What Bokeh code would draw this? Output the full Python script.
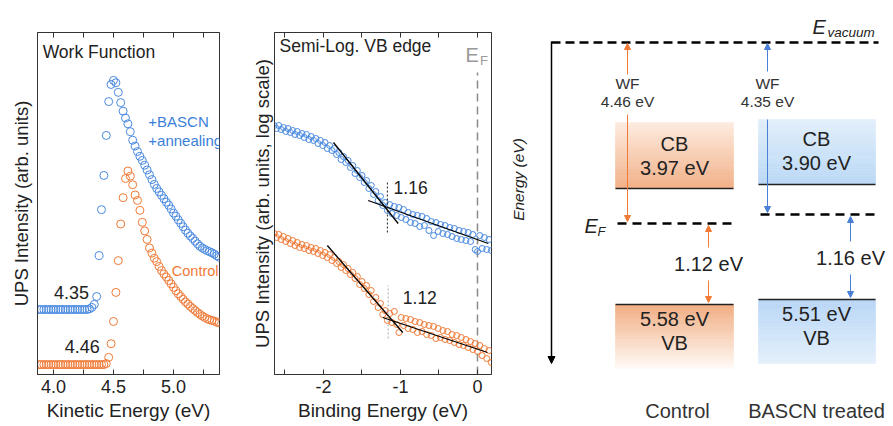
from bokeh.plotting import figure
from bokeh.models import (Range1d, FixedTicker, Label, Arrow, NormalHead, LinearAxis,
                          PrintfTickFormatter)
from bokeh.embed import file_html
from bokeh.resources import INLINE

FONT = "Liberation Sans"
TXT = "#222222"
BLUE = "#4a8ae0"
ORANGE = "#f07a36"

# ---------------- Panel 1: work function (secondary electron cut-off) ----------------
kinetic_energy = [3.88, 3.90, 3.92, 3.94, 3.96, 3.98, 4.00, 4.02, 4.04, 4.06, 4.08, 4.10, 4.12, 4.14,
                  4.16, 4.18, 4.20, 4.22, 4.24, 4.26, 4.28, 4.30, 4.32, 4.34, 4.36, 4.38, 4.40, 4.42,
                  4.44, 4.46, 4.48, 4.50, 4.52, 4.54, 4.56, 4.58, 4.60, 4.62, 4.64, 4.66, 4.68, 4.70,
                  4.72, 4.74, 4.76, 4.78, 4.80, 4.82, 4.84, 4.86, 4.88, 4.90, 4.92, 4.94, 4.96, 4.98,
                  5.00, 5.02, 5.04, 5.06, 5.08, 5.10, 5.12, 5.14, 5.16, 5.18, 5.20, 5.22, 5.24, 5.26,
                  5.28, 5.30, 5.32, 5.34, 5.36, 5.38]
wf_bascn = [19.0] * 21 + [19.2, 19.6, 20.5, 22.8, 34.8, 48.2, 58.2, 69.9, 79.8, 84.8, 86.0, 85.3,
                          82.5, 79.5, 77.0, 75.0, 73.3, 71.0, 68.5, 66.8, 65.2, 63.8, 62.6, 61.2,
                          59.8, 58.4, 57.0, 55.6, 54.4, 53.4, 52.4, 51.4, 50.4, 49.5, 48.4, 47.2,
                          46.3, 45.2, 44.2, 43.2, 42.2, 41.3, 40.5, 39.8, 39.0, 38.2, 37.5, 37.0,
                          36.6, 36.2, 35.9, 35.6, 35.2, 34.7, 34.3]
wf_control = [2.9] * 28 + [3.2, 5.0, 9.0, 15.5, 24.0, 33.3, 44.0, 51.7, 57.3, 59.5, 58.0, 55.5,
                           52.5, 50.9, 48.0, 44.5, 42.0, 39.5, 37.0, 35.5, 34.0, 33.0, 31.6, 30.4,
                           29.4, 28.5, 27.5, 26.5, 25.5, 24.5, 23.6, 22.8, 22.0, 21.2, 20.6, 19.9,
                           19.3, 18.7, 18.1, 17.6, 17.1, 16.7, 16.3, 16.0, 15.8, 15.6, 15.3, 15.1]
ke_ticks = [4.0, 4.5, 5.0]
ke_minor = [4.25, 4.75, 5.25]
wf_cutoff_labels = ["4.35", "4.46"]

# ---------------- Panel 2: semi-log valence band edge ----------------
binding_energy = [-2.64, -2.61, -2.58, -2.55, -2.52, -2.49, -2.46, -2.43, -2.40, -2.37, -2.34, -2.31,
                  -2.28, -2.25, -2.22, -2.19, -2.16, -2.13, -2.10, -2.07, -2.04, -2.01, -1.98, -1.95,
                  -1.92, -1.89, -1.86, -1.83, -1.80, -1.77, -1.74, -1.71, -1.68, -1.65, -1.62, -1.59,
                  -1.56, -1.53, -1.50, -1.47, -1.44, -1.41, -1.38, -1.35, -1.32, -1.29, -1.26, -1.23,
                  -1.20, -1.17, -1.14, -1.11, -1.08, -1.05, -1.02, -0.99, -0.96, -0.93, -0.90, -0.87,
                  -0.84, -0.81, -0.78, -0.75, -0.72, -0.69, -0.66, -0.63, -0.60, -0.57, -0.54, -0.51,
                  -0.48, -0.45, -0.42, -0.39, -0.36, -0.33, -0.30, -0.27, -0.24, -0.21, -0.18, -0.15,
                  -0.12, -0.09, -0.06, -0.03, 0.00, 0.03, 0.06, 0.09, 0.12, 0.15, 0.18]
vb_bascn = [24.9, 24.6, 24.9, 24.5, 24.7, 24.3, 24.6, 24.2, 24.4, 24.0,
            24.3, 23.9, 24.1, 23.7, 24.0, 23.5, 23.8, 23.4, 23.6, 23.1,
            23.4, 22.9, 23.2, 22.6, 22.9, 22.4, 22.6, 22.0, 22.2, 21.5,
            21.8, 21.2, 21.4, 20.7, 20.9, 20.1, 20.4, 19.7, 19.9, 19.2,
            19.4, 18.6, 18.9, 18.0, 18.3, 17.4, 17.8, 16.9, 17.2, 16.4,
            17.0, 16.1, 16.8, 15.9, 16.7, 15.7, 16.5, 15.5, 16.2, 15.2,
            16.0, 15.1, 15.9, 14.8, 15.8, 14.9, 15.6, 14.4, 15.3, 13.9,
            15.2, 14.3, 15.0, 14.1, 14.9, 14.0, 14.7, 13.8, 14.6, 13.6,
            14.4, 13.5, 14.3, 13.4, 14.2, 13.3, 14.0, 12.5, 12.3, 13.9,
            12.6, 13.7, 12.5, 13.5, 12.4]
vb_control = [14.1, 13.7, 14.0, 13.5, 13.8, 13.3, 13.6, 13.1, 13.4, 12.9,
              13.2, 12.7, 13.0, 12.6, 12.9, 12.4, 12.7, 12.3, 12.6, 12.1,
              12.4, 11.9, 12.2, 11.7, 12.0, 11.4, 11.7, 11.1, 11.3, 10.7,
              11.0, 10.4, 10.6, 10.0, 10.2, 9.6, 9.8, 9.0, 9.3, 8.6,
              8.9, 8.0, 8.4, 7.3, 7.7, 6.7, 7.1, 6.0, 6.4, 5.4,
              6.1, 5.2, 6.3, 5.0, 4.2, 5.7, 4.9, 5.6, 4.6, 5.5,
              4.5, 5.3, 4.2, 5.2, 4.3, 5.0, 4.0, 4.9, 3.9, 4.8,
              3.6, 4.6, 3.7, 4.4, 3.5, 4.3, 3.4, 4.0, 3.2, 3.9,
              3.0, 3.7, 2.9, 3.5, 2.7, 3.3, 2.5, 3.1, 2.3, 2.9,
              1.9, 2.6, 1.6, 2.4, 1.2]
# linear fits (x0, y0, x1, y1)
fit_bascn_steep = [-1.87, 23.2, -1.03, 15.1]
fit_bascn_flat = [-1.42, 17.4, 0.14, 13.1]
fit_control_steep = [-1.95, 12.9, -0.97, 4.2]
fit_control_flat = [-1.23, 5.7, 0.13, 2.2]
onset_bascn = [-1.17, 14.2, 19.4]
onset_control = [-1.16, 3.6, 8.9]
onset_labels = ["1.16", "1.12"]
be_ticks = [-2, -1, 0]
be_minor = [-2.5, -1.5, -0.5]

# ---------------- Panel 3: energy level diagram ----------------
samples = ["Control", "BASCN treated"]
work_function = [4.46, 4.35]
cb_energy = [3.97, 3.90]
vb_energy = [5.58, 5.51]
ef_to_vb = [1.12, 1.16]
sample_colors = [ORANGE, "#4a7fd6"]

H = 426


def style_frame(p):
    p.grid.visible = False
    p.outline_line_color = "#333333"
    p.outline_line_width = 1
    p.background_fill_color = "white"
    p.border_fill_color = "white"


def style_xaxis(ax, ticks, minor, label, fmt):
    ax.ticker = FixedTicker(ticks=ticks, minor_ticks=minor)
    ax.formatter = PrintfTickFormatter(format=fmt)
    ax.major_tick_in = 5
    ax.major_tick_out = 0
    ax.minor_tick_in = 5
    ax.minor_tick_out = 0
    ax.axis_line_color = "#333333"
    ax.major_tick_line_color = "#333333"
    ax.minor_tick_line_color = "#333333"
    ax.major_label_text_font = FONT
    ax.major_label_text_font_size = "18px"
    ax.major_label_text_color = TXT
    ax.major_label_standoff = 5
    ax.axis_label = label
    ax.axis_label_text_font = FONT
    ax.axis_label_text_font_size = "19px"
    ax.axis_label_text_font_style = "normal"
    ax.axis_label_text_color = TXT
    ax.axis_label_standoff = 4


def top_axis(ticks, minor):
    return LinearAxis(ticker=FixedTicker(ticks=[], minor_ticks=list(ticks) + list(minor)),
                      major_tick_in=0, major_tick_out=0, minor_tick_in=5, minor_tick_out=0,
                      major_label_standoff=0, axis_line_color="#333333",
                      minor_tick_line_color="#333333")


def style_yaxis(ax, label, standoff):
    ax.ticker = FixedTicker(ticks=[])
    ax.major_tick_in = 0
    ax.major_tick_out = 0
    ax.minor_tick_in = 0
    ax.minor_tick_out = 0
    ax.axis_line_color = "#333333"
    ax.major_label_standoff = 0
    ax.axis_label = label
    ax.axis_label_text_font = FONT
    ax.axis_label_text_font_size = "18.5px"
    ax.axis_label_text_font_style = "normal"
    ax.axis_label_text_color = TXT
    ax.axis_label_standoff = standoff


def lbl(p, x, y, text, size, color=TXT, align="left", baseline="middle", style="normal", **kw):
    p.add_layout(Label(x=x, y=y, text=text, text_font=FONT, text_font_size=size,
                       text_color=color, text_align=align, text_baseline=baseline,
                       text_font_style=style, **kw))


# ---------- figure 1 ----------
p1 = figure(width=245, height=H, x_range=Range1d(3.867, 5.383), y_range=Range1d(0, 100),
            output_backend="svg", toolbar_location=None, min_border_left=37, min_border_right=26,
            min_border_top=32, min_border_bottom=H - 374)
style_frame(p1)
style_xaxis(p1.xaxis[0], ke_ticks, ke_minor, "Kinetic Energy (eV)", "%.1f")
p1.add_layout(top_axis(ke_ticks, ke_minor), "above")
style_yaxis(p1.yaxis[0], "UPS Intensity (arb. units)", 6)
p1.scatter(kinetic_energy, wf_bascn, marker="circle", size=8, fill_alpha=0, line_color=BLUE, line_width=1)
p1.scatter(kinetic_energy, wf_control, marker="circle", size=8, fill_alpha=0, line_color=ORANGE, line_width=1)
lbl(p1, 3.91, 94.2, "Work Function", "17.5px")
lbl(p1, 4.79, 74.0, "+BASCN", "15px", color="#3a7fd8")
lbl(p1, 4.79, 68.4, "+annealing", "15px", color="#3a7fd8")
lbl(p1, 5.375, 30.4, "Control", "14.5px", color=ORANGE, align="right")
lbl(p1, 4.15, 24.0, wf_cutoff_labels[0], "18px", align="center")
lbl(p1, 4.24, 8.2, wf_cutoff_labels[1], "18px", align="center")

# ---------- figure 2 ----------
p2 = figure(width=255, height=H, x_range=Range1d(-2.636, 0.182), y_range=Range1d(0, 34.2),
            output_backend="svg", toolbar_location=None, min_border_left=29, min_border_right=9,
            min_border_top=32, min_border_bottom=H - 374)
style_frame(p2)
style_xaxis(p2.xaxis[0], be_ticks, be_minor, "Binding Energy (eV)", "%d")
p2.add_layout(top_axis(be_ticks, be_minor), "above")
style_yaxis(p2.yaxis[0], "UPS Intensity (arb. units, log scale)", 2)
p2.segment(x0=[0], y0=[0], x1=[0], y1=[30.2], line_color="#8a8a8a", line_width=1.5, line_dash="8 5")
p2.scatter(binding_energy, vb_bascn, marker="circle", size=6, fill_alpha=0, line_color=BLUE, line_width=1)
p2.scatter(binding_energy, vb_control, marker="circle", size=6, fill_alpha=0, line_color=ORANGE, line_width=1)
fits = [fit_bascn_steep, fit_bascn_flat, fit_control_steep, fit_control_flat]
p2.segment(x0=[f[0] for f in fits], y0=[f[1] for f in fits], x1=[f[2] for f in fits],
           y1=[f[3] for f in fits], line_color="black", line_width=1.3)
p2.segment(x0=[onset_bascn[0]], y0=[onset_bascn[1]], x1=[onset_bascn[0]], y1=[onset_bascn[2]],
           line_color="#222222", line_width=1, line_dash="2 2")
p2.segment(x0=[onset_control[0]], y0=[onset_control[1]], x1=[onset_control[0]], y1=[onset_control[2]],
           line_color="#aaaaaa", line_width=1, line_dash="2 2")
lbl(p2, -1.09, 18.7, onset_labels[0], "17.5px")
lbl(p2, -0.97, 7.7, onset_labels[1], "17.5px")
lbl(p2, -2.57, 32.9, "Semi-Log. VB edge", "17.5px")
lbl(p2, -0.07, 31.95, "E", "20px", color="#999999", align="center")
lbl(p2, 0.085, 31.4, "F", "13px", color="#999999", align="center")

# ---------- figure 3: schematic diagram (layout coordinates = page px) ----------
p3 = figure(width=390, height=H, x_range=Range1d(500, 890), y_range=Range1d(H, 0),
            x_axis_type=None, y_axis_type=None, output_backend="svg", toolbar_location=None,
            min_border=0)
p3.grid.visible = False
p3.outline_line_color = None

VAC_Y = 42
AXIS_X = 551
cols = [
    dict(x0=615, x1=733, cb_top=122, cb_y=188, ef_y=223, vb_y=304, vb_bot=368, wf_x=627, gap_x=708,
         cb_c=((253, 236, 224), (242, 176, 136)), vb_c=((241, 172, 128), (255, 250, 246)),
         cx=674, cb_ty=143, vb_ty=318, gap_ty=263, label_x=677, wf_top_end=74, wf_bot_start=114),
    dict(x0=758, x1=875, cb_top=119, cb_y=184, ef_y=214, vb_y=299, vb_bot=363, wf_x=767, gap_x=850,
         cb_c=((226, 239, 251), (186, 216, 246)), vb_c=((184, 214, 246), (228, 240, 252)),
         cx=816, cb_ty=138, vb_ty=313, gap_ty=257, label_x=816, wf_top_end=71, wf_bot_start=119),
]


def gradient_box(p, x0, x1, ytop, ybot, ctop, cbot, n=30):
    h = (ybot - ytop) / n
    tops, bots, colors = [], [], []
    for i in range(n):
        t = (i + 0.5) / n
        c = tuple(int(round(ctop[k] + (cbot[k] - ctop[k]) * t)) for k in range(3))
        colors.append("#%02x%02x%02x" % c)
        tops.append(ytop + i * h)
        bots.append(ytop + (i + 1) * h)
    p.quad(left=[x0] * n, right=[x1] * n, top=tops, bottom=bots, fill_color=colors,
           line_color=colors, line_width=0.6)


def arrow(p, x, y0, y1, color):
    p.add_layout(Arrow(end=NormalHead(size=6, fill_color=color, line_color=color, line_width=1),
                       x_start=x, y_start=y0, x_end=x, y_end=y1, line_color=color, line_width=1))


# energy axis
p3.add_layout(Arrow(end=NormalHead(size=7, fill_color="black", line_color="black"),
                    x_start=AXIS_X, y_start=VAC_Y - 1, x_end=AXIS_X, y_end=363,
                    line_color="black", line_width=1.5))
p3.add_layout(Label(x=518, y=179, text="Energy (eV)", angle=1.5708, text_font=FONT,
                    text_font_size="15.5px", text_font_style="italic", text_color=TXT,
                    text_align="center", text_baseline="middle"))
# vacuum level
p3.segment(x0=[AXIS_X], y0=[VAC_Y], x1=[878], y1=[VAC_Y], line_color="black", line_width=2.5,
           line_dash="9 5")
lbl(p3, 812, 26, "E", "20px", style="italic")
lbl(p3, 827, 32, "vacuum", "13.5px", style="italic")
lbl(p3, 584, 225, "E", "20px", style="italic")
lbl(p3, 597, 231, "F", "13px", style="italic")

for i, c in enumerate(cols):
    col = sample_colors[i]
    gradient_box(p3, c["x0"], c["x1"], c["cb_top"], c["cb_y"], c["cb_c"][0], c["cb_c"][1])
    gradient_box(p3, c["x0"], c["x1"], c["vb_y"], c["vb_bot"], c["vb_c"][0], c["vb_c"][1])
    p3.segment(x0=[c["x0"], c["x0"]], y0=[c["cb_y"], c["vb_y"]], x1=[c["x1"], c["x1"]],
               y1=[c["cb_y"], c["vb_y"]], line_color="#222222", line_width=1.6)
    p3.segment(x0=[c["x0"] + 2], y0=[c["ef_y"]], x1=[c["x1"]], y1=[c["ef_y"]], line_color="black",
               line_width=2.5, line_dash="9 6")
    lbl(p3, c["cx"], c["cb_ty"], "CB", "20px", align="center")
    lbl(p3, c["cx"], c["cb_ty"] + 24, "%.2f eV" % cb_energy[i], "20px", align="center")
    lbl(p3, c["cx"], c["vb_ty"], "%.2f eV" % vb_energy[i], "20px", align="center")
    lbl(p3, c["cx"], c["vb_ty"] + 24, "VB", "20px", align="center")
    # work function arrow
    arrow(p3, c["wf_x"], c["wf_top_end"], VAC_Y + 1, col)
    arrow(p3, c["wf_x"], c["wf_bot_start"], c["ef_y"] - 2, col)
    lbl(p3, c["wf_x"], 83, "WF", "15.5px", color="#333333", align="center")
    lbl(p3, c["wf_x"], 101, "%.2f eV" % work_function[i], "15.5px", color="#333333", align="center")
    # EF to VB arrow
    arrow(p3, c["gap_x"], c["gap_ty"] - 16, c["ef_y"] + 2, col)
    arrow(p3, c["gap_x"], c["gap_ty"] + 17, c["vb_y"] - 2, col)
    lbl(p3, c["gap_x"], c["gap_ty"], "%.2f eV" % ef_to_vb[i], "20px", align="center")
    lbl(p3, c["label_x"], 410, samples[i], "20px", color="#333333", align="center")

# the three panels sit side by side as separate roots (no frame alignment between them)
TEMPLATE = """
{% block postamble %}
<style>
  body { display: flex !important; flex-direction: row; align-items: flex-start; overflow: hidden; }
</style>
{% endblock %}
"""
open("out.html", "w").write(file_html([p1, p2, p3], INLINE, template=TEMPLATE))
